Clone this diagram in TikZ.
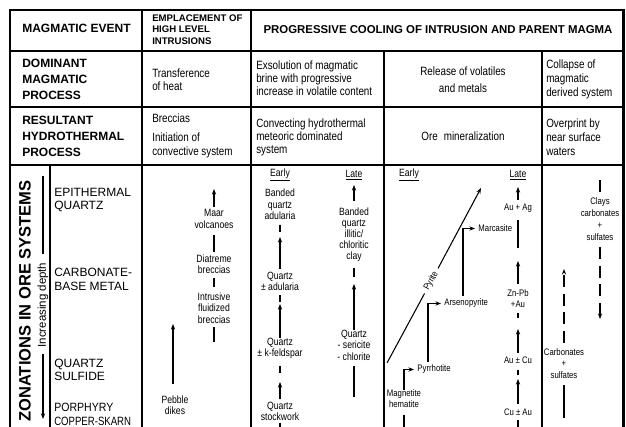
\documentclass[tikz,border=0pt]{standalone}
\usepackage{fontspec}
\usepackage{graphicx}
\setmainfont{Liberation Sans}
\newfontfamily\nar{Liberation Sans}[FakeStretch=0.82]
\usetikzlibrary{arrows.meta}
\tikzset{
  frame/.style={line width=1.6pt},
  hline/.style={line width=1.4pt},
  gridl/.style={line width=1.05pt},
  hd/.style={font=\fontsize{9}{12}\selectfont\bfseries, align=left, anchor=west, inner sep=0pt},
  emp/.style={font=\fontsize{7.2}{8.6}\selectfont\bfseries, align=left, anchor=west, inner sep=0pt},
  ttl/.style={font=\fontsize{8.55}{10}\selectfont\bfseries, inner sep=0pt},
  body/.style={font=\nar\fontsize{9}{9.75}\selectfont, align=left, anchor=west, inner sep=0pt},
  zone/.style={font=\fontsize{9}{10.1}\selectfont, align=left, anchor=west, inner sep=0pt},
  lab/.style={font=\nar\fontsize{7.9}{8.6}\selectfont, align=center, inner sep=0pt},
  ore/.style={font=\nar\fontsize{7.1}{8.4}\selectfont, align=center, inner sep=0pt},
  orew/.style={ore, anchor=west, inner xsep=2.4pt},
  ln/.style={line width=0.8pt},
  arr/.style={line width=0.8pt, -{Stealth[length=4.2pt,width=3.2pt]}},
  dsh/.style={dash pattern=on 9pt off 5pt},
}
\begin{document}
\begin{tikzpicture}[x=0.75pt,y=-0.75pt]
\useasboundingbox (0,0) rectangle (626,427);
% ---------- grid ----------
\draw[frame] (10,427) -- (10,10) -- (623.5,10) -- (623.5,427);
\draw[hline] (10,51) -- (623.5,51);
\draw[gridl] (10,107) -- (623.5,107);
\draw[gridl] (10,165) -- (623.5,165);
\draw[gridl] (142,10) -- (142,427);
\draw[gridl] (251,10) -- (251,427);
\draw[gridl] (384,51) -- (384,427);
\draw[gridl] (542,51) -- (542,427);
\draw[gridl] (50,165) -- (50,427);
% ---------- header row ----------
\node[hd] (me) at (22,28) {MAGMATIC EVENT};
\node[emp] (emph) at (152,29.5) {EMPLACEMENT OF\\HIGH LEVEL\\INTRUSIONS};
\node[ttl] (pc) at (438,30) {PROGRESSIVE COOLING OF INTRUSION AND PARENT MAGMA};
% ---------- row 2 ----------
\node[hd] (dmp) at (22,79) {DOMINANT\\MAGMATIC\\PROCESS};
\node[body] (toh) at (152,79.5) {Transference\\of heat};
\node[body] (exs) at (256,78) {Exsolution of magmatic\\brine with progressive\\increase in volatile content};
\node[body, anchor=center, align=center, font=\nar\fontsize{9}{13.1}\selectfont] (rel) at (463,79.5) {Release of volatiles\\and metals};
\node[body, font=\nar\fontsize{9}{10.5}\selectfont] (col) at (546,79) {Collapse of\\magmatic\\derived system};
% ---------- row 3 ----------
\node[hd] (rhp) at (22,136) {RESULTANT\\HYDROTHERMAL\\PROCESS};
\node[body] (brc) at (152,118.5) {Breccias};
\node[body, font=\nar\fontsize{9}{10.5}\selectfont] (ini) at (152,145) {Initiation of\\convective system};
\node[body] (chm) at (256,137) {Convecting hydrothermal\\meteoric dominated\\system};
\node[body, anchor=center] (orem) at (463,136) {Ore\enspace mineralization};
\node[body, font=\nar\fontsize{9}{10.5}\selectfont] (ovp) at (546,137) {Overprint by\\near surface\\waters};
% ---------- row 4: left labels ----------
\node[font=\fontsize{12.4}{14}\selectfont\bfseries, rotate=90, inner sep=0pt] (zon) at (25,301) {ZONATIONS IN ORE SYSTEMS};
\node[font=\fontsize{8.6}{10}\selectfont, rotate=90, inner sep=0pt] (dep) at (43,305) {Increasing depth};
\coordinate (depT) at (43,176);
\coordinate (depB) at (43,419);
\draw[ln] (depT) -- (43,254);
\draw[arr] (43,354) -- (depB);
\node[zone] (epi) at (54,200) {EPITHERMAL\\QUARTZ};
\node[zone] (cbm) at (54,279.5) {CARBONATE-\\BASE METAL};
\node[zone] (qsf) at (54,370) {QUARTZ\\SULFIDE};
\node[zone] (pcs) at (54,414.5) {\scalebox{0.88}[1]{PORPHYRY}\\\scalebox{0.8}[1]{COPPER-SKARN}};
% ---------- emplacement column ----------
\node[lab] (maar) at (214,219) {Maar\\volcanoes};
\node[lab] (diat) at (214,264) {Diatreme\\breccias};
\node[lab] (intr) at (214,308) {Intrusive\\fluidized\\breccias};
\node[lab] (peb) at (175,405) {Pebble\\dikes};
\draw[arr] (214,207) -- (214,189);
\draw[ln] (214,235) -- (214,252);
\draw[ln] (214,278) -- (214,287);
\draw[ln] (214,327) -- (214,342);
\draw[arr] (173,384) -- (173,324);
% ---------- convecting column ----------
\node[lab] (ce) at (280,175) {\underline{Early}};
\node[lab] (cl) at (354,175) {\underline{Late}};
\node[lab] (bqa) at (280,204.5) {Banded\\quartz\\adularia};
\node[lab] (qad) at (280,281.5) {Quartz\\± adularia};
\node[lab] (qkf) at (280,348.5) {Quartz\\± k-feldspar};
\node[lab] (qsw) at (280,411.5) {Quartz\\stockwork};
\draw[ln] (280,225) -- (280,232);
\draw[arr] (280,269) -- (280,237);
\draw[ln] (280,295) -- (280,302);
\draw[arr] (280,338) -- (280,304);
\draw[ln] (280,366) -- (280,373);
\draw[arr] (280,399) -- (280,382);
\draw[ln] (280,423) -- (280,427);
\node[lab, font=\nar\fontsize{7.9}{8.3}\selectfont] (bqi) at (354,235) {Banded\\quartz\\illitic/\\chloritic\\clay};
\node[lab] (qsc) at (354,345) {Quartz\\- sericite\\- chlorite};
\draw[arr] (354,201) -- (354,185);
\draw[ln] (354,268) -- (354,277);
\draw[arr] (354,330) -- (354,284);
\draw[ln] (354,366) -- (354,397);
% ---------- ore mineralization column ----------
\node[lab] (oe) at (409,175) {\underline{Early}};
\node[lab] (ol) at (518,175) {\underline{Late}};
\coordinate (pyS) at (387,363);
\coordinate (pyE) at (481,188);
\node[ore, rotate=61.6, inner xsep=3pt, inner ysep=0.5pt] (pyl) at (431.3,281) {Pyrite};
\draw[ln] (pyS) -- (pyl);
\draw[arr] (pyl) -- (pyE);
\node[ore] (mh) at (404,399) {Magnetite\\hematite};
\node[orew] (pyrr) at (414,369.5) {Pyrrhotite};
\node[orew] (arsn) at (441,303.5) {Arsenopyrite};
\node[orew] (marc) at (475,228.5) {Marcasite};
\draw[arr] (mh.north) |- (pyrr.west);
\draw[arr] (428,362) |- (arsn.west);
\draw[arr] (463,296) |- (marc.west);
\draw[ln] (404,415) -- (404,427);
\node[ore] (auag) at (518,208) {Au + Ag};
\node[ore] (znpb) at (518,298.5) {Zn-Pb\\+Au};
\node[ore] (aucu) at (518,360) {Au ± Cu};
\node[ore] (cuau) at (518,412) {Cu ± Au};
\draw[arr] (518,200) -- (518,187);
\draw[ln] (518,220) -- (518,248);
\draw[arr] (518,284) -- (518,261);
\draw[ln] (518,313) -- (518,318);
\draw[arr] (518,353) -- (518,329);
\draw[ln] (518,370) -- (518,375);
\draw[arr] (518,404) -- (518,379);
\draw[ln] (518,420) -- (518,427);
% ---------- collapse column ----------
\node[ore, font=\nar\fontsize{7.1}{9}\selectfont] (cla) at (600,219) {Clays\\carbonates\\+\\sulfates};
\node[ore, font=\nar\fontsize{7.1}{8.6}\selectfont] (cbs) at (564,363.5) {Carbonates\\+\\sulfates};
\draw[ln] (600,180) -- (600,192);
\draw[ln, dsh, arr] (600,247) -- (600,319);
\draw[ln, dsh, arr] (564,343) -- (564,269);
\draw[ln] (564,385) -- (564,418);
\end{tikzpicture}
\end{document}
